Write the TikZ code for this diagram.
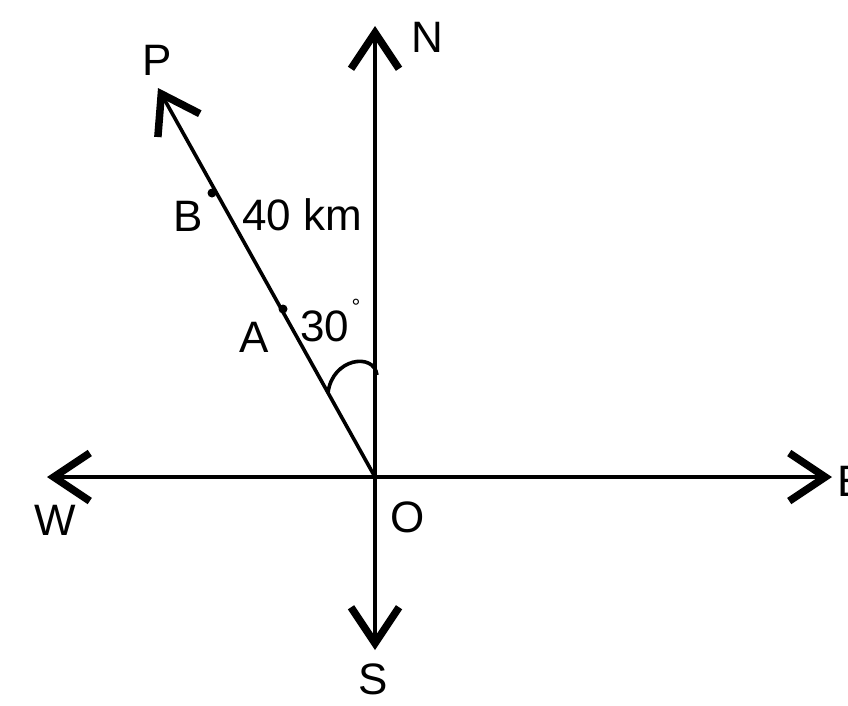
\documentclass[tikz,border=0pt]{standalone}
\usepackage{fontspec}
\setmainfont{Liberation Sans}
\usetikzlibrary{arrows.meta}
\begin{document}
\begin{tikzpicture}[x=1pt,y=-1pt,
  axis/.style={line width=3.6pt,-{Straight Barb[length=36pt,width=48pt,line width=7.5pt]}},
  lbl/.style={inner sep=0pt,font=\fontsize{44}{48}\selectfont},
  tick/.style={fill=black,circle,inner sep=0pt,minimum size=9pt}]
\useasboundingbox (0,0) rectangle (848,705);
\coordinate (O) at (375,477);
\coordinate (Ntip) at (375,26);
\coordinate (Stip) at (375,650);
\coordinate (Wtip) at (47,477);
\coordinate (Etip) at (832,477);
\coordinate (Ptip) at (158,88);
\draw[axis] (O) -- (Ntip);
\draw[axis] (O) -- (Stip);
\draw[axis] (O) -- (Wtip);
\draw[axis] (O) -- (Etip);
\draw[axis] (O) -- (Ptip);
\node[tick] (B) at (212,193) {};
\node[tick] (A) at (283,309) {};
\coordinate (arcS) at (328,393);
\coordinate (arcE) at (377,375);
\draw[line width=3.6pt] (arcS) .. controls (332,358) and (374,352) .. (arcE);
\node[lbl] (lN) at (427,37) {N};
\node[lbl] (lP) at (157,60) {P};
\node[lbl] (lB) at (188,216) {B};
\node[lbl] (l40) at (302,215) {40 km};
\node[lbl] (lA) at (254,337) {A};
\node[lbl] (l30) at (325,326) {30};
\node[inner sep=0pt,font=\fontsize{22}{24}\selectfont] (deg) at (356,307) {°};
\node[lbl] (lW) at (55,520) {W};
\node[lbl] (lO) at (408,517) {O};
\node[lbl] (lS) at (373,679) {S};
\node[lbl,anchor=west] (lE) at (837,481) {E};
\end{tikzpicture}
\end{document}
